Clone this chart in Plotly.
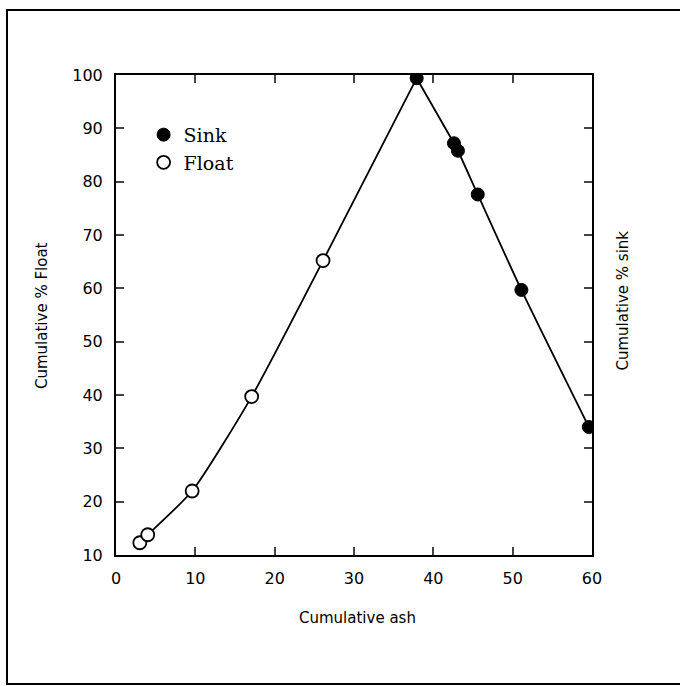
import plotly.graph_objects as go

# Data
float_x = [3.0, 4.0, 9.6, 17.1, 26.1]
float_y = [12.3, 13.8, 22.0, 39.7, 65.2]
sink_x = [37.9, 42.6, 43.1, 45.6, 51.1, 59.6]
sink_y = [99.4, 87.2, 85.8, 77.6, 59.7, 34.0]

x_ticks = [0, 10, 20, 30, 40, 50, 60]
y_ticks = [10, 20, 30, 40, 50, 60, 70, 80, 90, 100]

fig = go.Figure()

# Float curve (to the peak)
fig.add_trace(go.Scatter(
    x=float_x + [sink_x[0]], y=float_y + [sink_y[0]],
    mode="lines", line=dict(color="black", width=1.8, shape="spline", smoothing=0.6),
    showlegend=False, hoverinfo="skip"))
# Sink curve (from the peak)
fig.add_trace(go.Scatter(
    x=sink_x, y=sink_y,
    mode="lines", line=dict(color="black", width=1.8, shape="spline", smoothing=0.6),
    showlegend=False, hoverinfo="skip"))

fig.add_trace(go.Scatter(
    x=sink_x, y=sink_y, mode="markers", name="Sink",
    marker=dict(symbol="circle", size=13, color="black", line=dict(color="black", width=1))))
fig.add_trace(go.Scatter(
    x=float_x, y=float_y, mode="markers", name="Float",
    marker=dict(symbol="circle", size=13, color="white", line=dict(color="black", width=1.8))))

axis_font = dict(family="DejaVu Sans", size=16, color="black")
title_font = dict(family="DejaVu Sans", size=15, color="black")

fig.update_xaxes(
    range=[0, 60], tickvals=x_ticks, ticks="inside", ticklen=8, tickwidth=1.5,
    showline=True, linecolor="black", linewidth=2, mirror="ticks",
    showgrid=False, zeroline=False, tickfont=axis_font, ticklabelstandoff=8)
fig.update_yaxes(
    range=[10, 100], tickvals=y_ticks, ticks="inside", ticklen=8, tickwidth=1.5,
    showline=True, linecolor="black", linewidth=2, mirror="ticks",
    showgrid=False, zeroline=False, tickfont=axis_font, ticklabelstandoff=8)

fig.update_layout(
    width=680, height=686,
    margin=dict(l=116, r=88, t=75, b=131),
    paper_bgcolor="white", plot_bgcolor="white",
    legend=dict(x=0.058, y=0.915, xanchor="left", yanchor="top",
                font=dict(family="DejaVu Serif", size=19, color="black"),
                traceorder="normal", bgcolor="rgba(0,0,0,0)", itemwidth=30),
    annotations=[
        dict(text="Cumulative ash", x=0.508, y=-0.131, xref="paper", yref="paper",
             xanchor="center", yanchor="middle", showarrow=False, font=title_font),
        dict(text="Cumulative % Float", x=-0.1555, y=0.5, xref="paper", yref="paper",
             xanchor="center", yanchor="middle", showarrow=False, textangle=-90, font=title_font),
        dict(text="Cumulative % sink", x=1.065, y=0.53, xref="paper", yref="paper",
             xanchor="center", yanchor="middle", showarrow=False, textangle=-90, font=title_font),
    ],
    shapes=[dict(type="rect", xref="paper", yref="paper",
                 x0=-0.229, x1=1.21, y0=-0.269, y1=1.1354,
                 line=dict(color="black", width=2), fillcolor="rgba(0,0,0,0)", layer="below")],
)

fig.write_html("out.html")
